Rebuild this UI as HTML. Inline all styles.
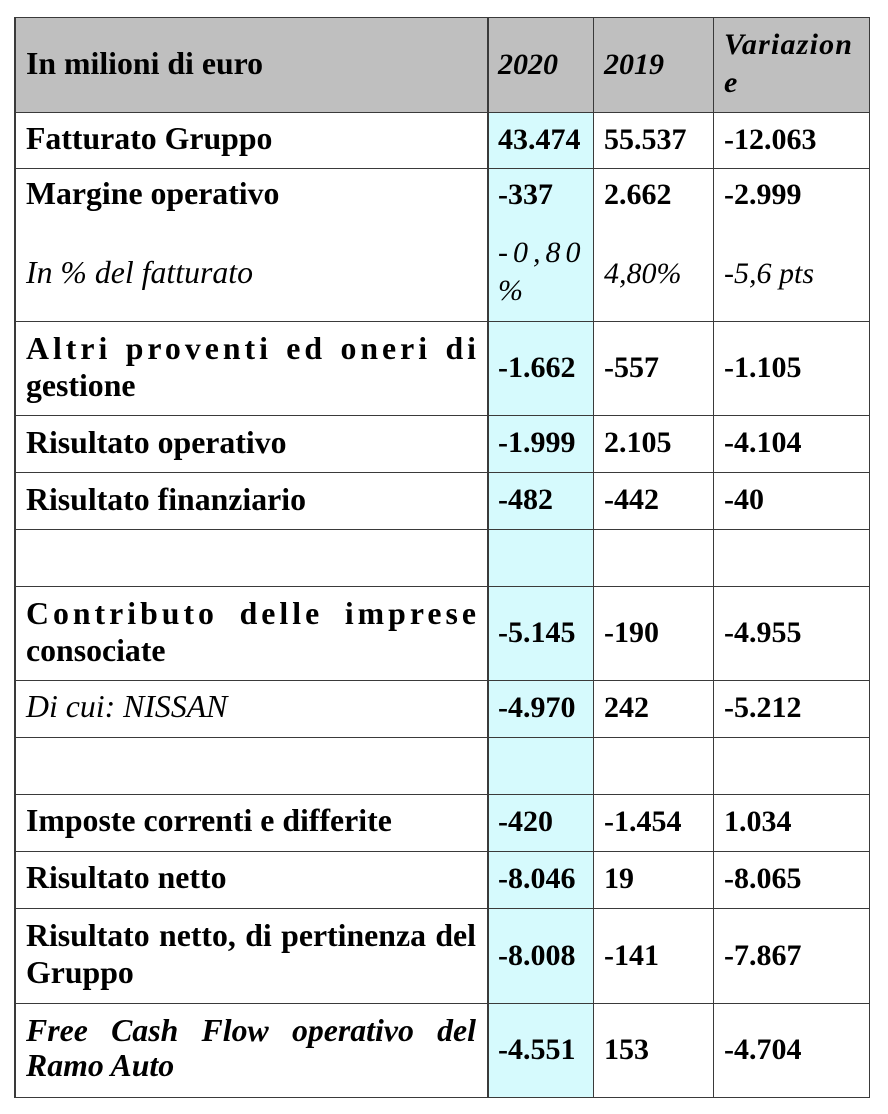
<!DOCTYPE html>
<html>
<head>
<meta charset="utf-8">
<style>
html,body{margin:0;padding:0;background:#fff;}
#c{position:relative;width:888px;height:1114px;overflow:hidden;background:#fff;font-family:"Liberation Serif","DejaVu Serif",serif;color:#000;}
.bg{position:absolute;}
.h{position:absolute;left:14px;width:856px;height:1.5px;background:#3a3a3a;}
.v{position:absolute;top:17px;height:1081px;width:1.5px;background:#3a3a3a;}
.t{position:absolute;height:40px;line-height:40px;white-space:nowrap;}
.L{font-size:31.8px;font-weight:bold;left:26px;}
.Li{font-size:31.8px;font-style:italic;left:26px;}
.n{font-size:30px;font-weight:bold;}
.ni{font-size:30px;font-style:italic;}
.hb{font-size:30px;font-weight:bold;font-style:italic;}
.c1{left:498px;}
.c2{left:604px;}
.c3{left:724px;}
.j{text-align:justify;text-align-last:justify;}
</style>
</head>
<body>
<div id="c">
  <!-- backgrounds -->
  <div class="bg" style="left:14px;top:17px;width:856px;height:95px;background:#bfbfbf;"></div>
  <div class="bg" style="left:488px;top:112px;width:105px;height:985px;background:#d6fafd;"></div>

  <!-- horizontal lines -->
  <div class="h" style="top:16.5px"></div>
  <div class="h" style="top:111.5px"></div>
  <div class="h" style="top:167.5px"></div>
  <div class="h" style="top:320.5px"></div>
  <div class="h" style="top:414.5px"></div>
  <div class="h" style="top:471.5px"></div>
  <div class="h" style="top:528.5px"></div>
  <div class="h" style="top:585.5px"></div>
  <div class="h" style="top:679.5px"></div>
  <div class="h" style="top:736.5px"></div>
  <div class="h" style="top:793.5px"></div>
  <div class="h" style="top:850.5px"></div>
  <div class="h" style="top:907.5px"></div>
  <div class="h" style="top:1002.5px"></div>
  <div class="h" style="top:1096.5px"></div>

  <!-- vertical lines -->
  <div class="v" style="left:14px"></div>
  <div class="v" style="left:487px"></div>
  <div class="v" style="left:592.5px"></div>
  <div class="v" style="left:712.5px"></div>
  <div class="v" style="left:868.5px"></div>

  <!-- header -->
  <div class="t L" style="top:44.3px">In milioni di euro</div>
  <div class="t hb c1" style="top:44.9px">2020</div>
  <div class="t hb c2" style="top:44.9px">2019</div>
  <div class="t hb c3" style="top:24.9px;letter-spacing:1.2px">Variazion</div>
  <div class="t hb c3" style="top:62.6px">e</div>

  <!-- Fatturato -->
  <div class="t L" style="top:119.3px">Fatturato Gruppo</div>
  <div class="t n c1" style="top:119.9px">43.474</div>
  <div class="t n c2" style="top:119.9px">55.537</div>
  <div class="t n c3" style="top:119.9px">-12.063</div>

  <!-- Margine -->
  <div class="t L" style="top:174.3px">Margine operativo</div>
  <div class="t n c1" style="top:174.9px">-337</div>
  <div class="t n c2" style="top:174.9px">2.662</div>
  <div class="t n c3" style="top:174.9px">-2.999</div>

  <div class="t Li" style="top:252.6px">In % del fatturato</div>
  <div class="t ni c1" style="top:233.2px;letter-spacing:5px">-0,80</div>
  <div class="t ni c1" style="top:270.9px">%</div>
  <div class="t ni c2" style="top:253.9px">4,80%</div>
  <div class="t ni c3" style="top:253.9px">-5,6 pts</div>

  <!-- Altri -->
  <div class="t L j" style="top:329.3px;width:454px;letter-spacing:4px">Altri proventi ed oneri di</div>
  <div class="t L" style="top:366.3px">gestione</div>
  <div class="t n c1" style="top:348.2px">-1.662</div>
  <div class="t n c2" style="top:348.2px">-557</div>
  <div class="t n c3" style="top:348.2px">-1.105</div>

  <!-- Risultato operativo -->
  <div class="t L" style="top:422.6px">Risultato operativo</div>
  <div class="t n c1" style="top:423.2px">-1.999</div>
  <div class="t n c2" style="top:423.2px">2.105</div>
  <div class="t n c3" style="top:423.2px">-4.104</div>

  <!-- Risultato finanziario -->
  <div class="t L" style="top:479.6px">Risultato finanziario</div>
  <div class="t n c1" style="top:480.2px">-482</div>
  <div class="t n c2" style="top:480.2px">-442</div>
  <div class="t n c3" style="top:480.2px">-40</div>

  <!-- Contributo -->
  <div class="t L j" style="top:594.3px;width:454px;letter-spacing:4px">Contributo delle imprese</div>
  <div class="t L" style="top:631.3px">consociate</div>
  <div class="t n c1" style="top:612.5px">-5.145</div>
  <div class="t n c2" style="top:612.5px">-190</div>
  <div class="t n c3" style="top:612.5px">-4.955</div>

  <!-- NISSAN -->
  <div class="t Li" style="top:687.3px">Di cui: NISSAN</div>
  <div class="t n c1" style="top:687.9px">-4.970</div>
  <div class="t n c2" style="top:687.9px">242</div>
  <div class="t n c3" style="top:687.9px">-5.212</div>

  <!-- Imposte -->
  <div class="t L" style="top:801.3px">Imposte correnti e differite</div>
  <div class="t n c1" style="top:801.9px">-420</div>
  <div class="t n c2" style="top:801.9px">-1.454</div>
  <div class="t n c3" style="top:801.9px">1.034</div>

  <!-- Risultato netto -->
  <div class="t L" style="top:858.3px">Risultato netto</div>
  <div class="t n c1" style="top:858.9px">-8.046</div>
  <div class="t n c2" style="top:858.9px">19</div>
  <div class="t n c3" style="top:858.9px">-8.065</div>

  <!-- Pertinenza -->
  <div class="t L j" style="top:916px;width:450px">Risultato netto, di pertinenza del</div>
  <div class="t L" style="top:952.6px">Gruppo</div>
  <div class="t n c1" style="top:935.5px">-8.008</div>
  <div class="t n c2" style="top:935.5px">-141</div>
  <div class="t n c3" style="top:935.5px">-7.867</div>

  <!-- Free cash flow -->
  <div class="t L j" style="top:1011px;width:450px;font-style:italic">Free Cash Flow operativo del</div>
  <div class="t L" style="top:1046px;font-style:italic">Ramo Auto</div>
  <div class="t n c1" style="top:1029.9px">-4.551</div>
  <div class="t n c2" style="top:1029.9px">153</div>
  <div class="t n c3" style="top:1029.9px">-4.704</div>
</div>
</body>
</html>
